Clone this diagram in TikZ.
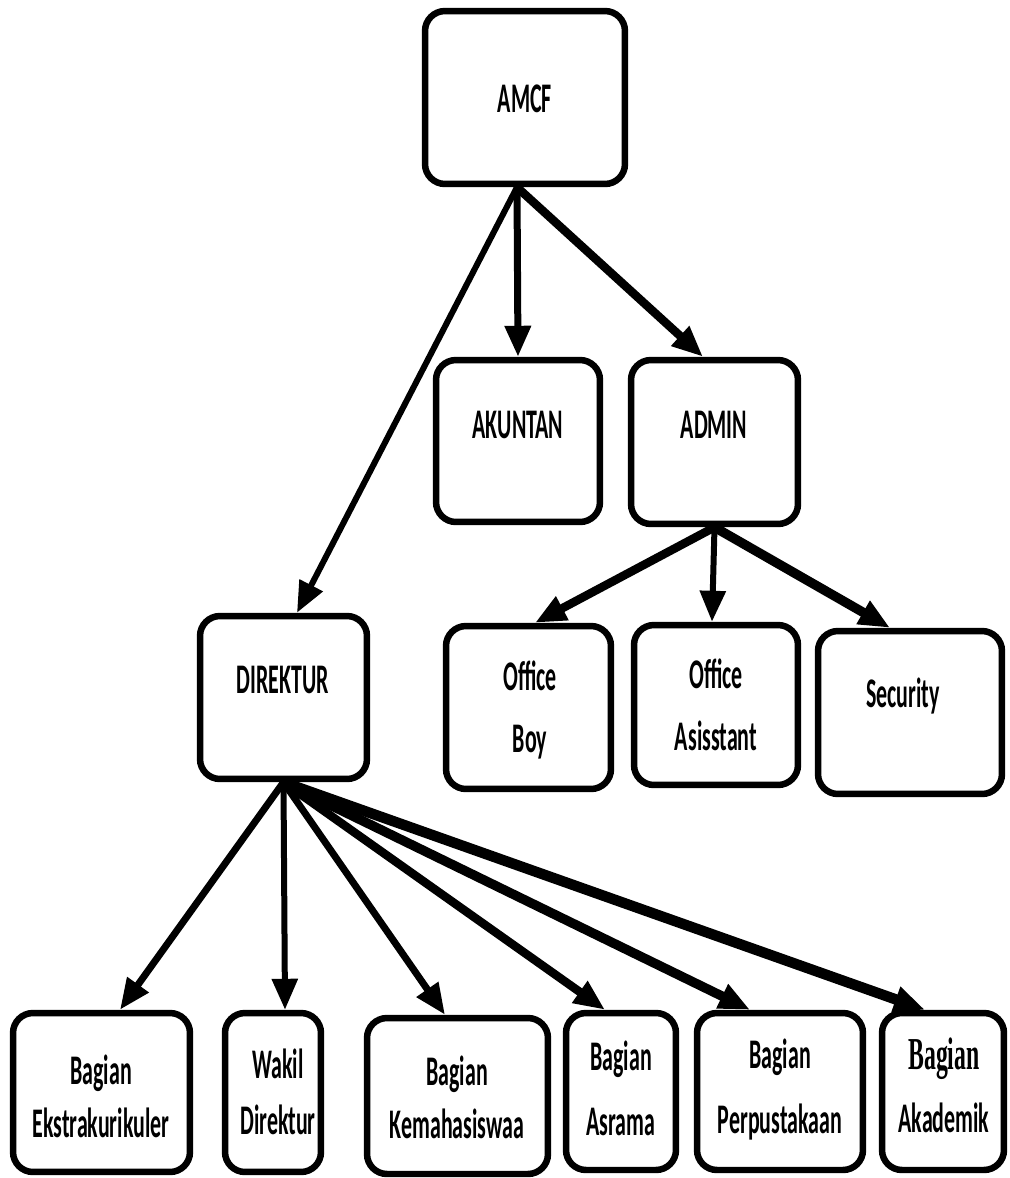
\documentclass[tikz,border=0pt]{standalone}
\usepackage{fontspec}
\setmainfont[FakeStretch=0.52]{Carlito}
\newfontfamily\serifword[FakeStretch=0.52]{Liberation Serif}
\usetikzlibrary{arrows.meta}

\begin{document}
\begin{tikzpicture}[
    x=0.02cm, y=-0.02cm,
    box/.style={draw, line width=0.13cm, rounded corners=0.4cm, fill=white, inner sep=0pt},
    lbl/.style={font=\fontsize{24}{30}\selectfont\bfseries, align=center, inner sep=0pt},
    arrow/.style={-{Triangle[length=0.62cm, width=0.5cm]}, line width=0.14cm}
]
\useasboundingbox (0,0) rectangle (1009,1178);

% top levels
\node[box, minimum width=4.00cm, minimum height=3.46cm] (amcf) at (525,97.5) {};
\node[box, minimum width=3.28cm, minimum height=3.24cm] (akuntan) at (518,441) {};
\node[box, minimum width=3.34cm, minimum height=3.28cm] (admin) at (714.5,442) {};
\node[box, minimum width=3.34cm, minimum height=3.26cm] (direktur) at (283.5,697.5) {};

% under admin
\node[box, minimum width=3.30cm, minimum height=3.26cm] (officeboy) at (528.5,707.5) {};
\node[box, minimum width=3.28cm, minimum height=3.20cm] (assistant) at (716,705) {};
\node[box, minimum width=3.68cm, minimum height=3.26cm] (security) at (910,712.5) {};

% under direktur
\node[box, minimum width=3.54cm, minimum height=3.18cm] (ekstra) at (101.5,1092.5) {};
\node[box, minimum width=1.92cm, minimum height=3.18cm] (wakil) at (273,1092.5) {};
\node[box, minimum width=3.62cm, minimum height=3.12cm] (kemahasiswaan) at (457.5,1096) {};
\node[box, minimum width=2.20cm, minimum height=3.14cm] (asrama) at (621,1091.5) {};
\node[box, minimum width=3.32cm, minimum height=3.14cm] (perpustakaan) at (780,1091.5) {};
\node[box, minimum width=2.44cm, minimum height=3.14cm] (akademik) at (943,1091.5) {};

% texts
\node[lbl] (t-amcf) at (525,99) {AMCF};
\node[lbl] (t-akuntan) at (518,425) {AKUNTAN};
\node[lbl] (t-admin) at (714,425) {ADMIN};
\node[lbl] (t-direktur) at (283,680) {DIREKTUR};
\node[lbl] (t-officeboy) at (530,710) {Office\\[5pt]Boy};
\node[lbl] (t-assistant) at (716,705) {Office\\[5pt]Asisstant};
\node[lbl] (t-security) at (903,696) {Security};
\node[lbl] (t-ekstra) at (101,1096) {Bagian\\Ekstrakurikuler};
\node[lbl] (t-wakil) at (278,1092) {Wakil\\[2pt]Direktur};
\node[lbl] (t-kemahasiswaan) at (457,1097) {Bagian\\Kemahasiswaa};
\node[lbl] (t-asrama) at (621,1088) {Bagian\\[7pt]Asrama};
\node[lbl] (t-perpustakaan) at (780,1090) {Bagian\\[7pt]Perpustakaan};
\node[lbl] (t-akademik) at (944,1085) {{\serifword\fontsize{26}{30}\selectfont\bfseries Bagian}\\[6pt]Akademik};

% connectors
\draw[arrow, line width=0.12cm] ([xshift=-0.16cm]amcf.south) -- ([xshift=0.27cm]direktur.north);
\draw[arrow] ([xshift=-0.16cm]amcf.south) -- (akuntan.north);
\draw[arrow, line width=0.17cm] ([xshift=-0.16cm]amcf.south) -- ([xshift=-0.23cm]admin.north);

\draw[arrow, line width=0.17cm] (admin.south) -- ([xshift=0.13cm]officeboy.north);
\draw[arrow, line width=0.12cm] (admin.south) -- ([xshift=-0.08cm]assistant.north);
\draw[arrow, line width=0.19cm] (admin.south) -- ([xshift=-0.40cm]security.north);

\draw[arrow] (direktur.south) -- ([xshift=0.37cm]ekstra.north);
\draw[arrow, line width=0.12cm] (direktur.south) -- ([xshift=0.24cm]wakil.north);
\draw[arrow] (direktur.south) -- ([xshift=-0.25cm]kemahasiswaan.north);
\draw[arrow, line width=0.17cm] (direktur.south) -- ([xshift=-0.32cm]asrama.north);
\draw[arrow, line width=0.19cm] (direktur.south) -- ([xshift=-0.60cm]perpustakaan.north);
\draw[arrow, line width=0.21cm] (direktur.south) -- ([xshift=-0.36cm]akademik.north);
\end{tikzpicture}
\end{document}
